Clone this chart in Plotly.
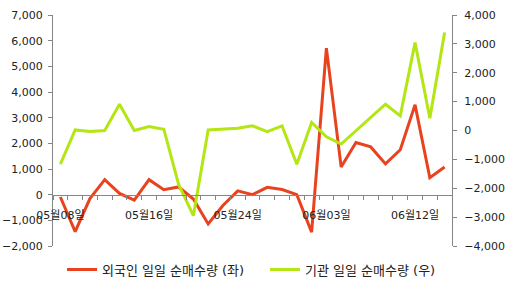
import plotly.graph_objects as go

dates = ['05월08일', '05월09일', '05월10일', '05월13일', '05월14일', '05월15일', '05월16일',
         '05월17일', '05월20일', '05월21일', '05월22일', '05월23일', '05월24일', '05월27일',
         '05월28일', '05월29일', '05월30일', '05월31일', '06월03일', '06월04일', '06월05일',
         '06월07일', '06월10일', '06월11일', '06월12일', '06월13일', '06월14일']
foreign = [-90, -1440, -150, 584, 50, -215, 584, 195, 300, -170, -1140, -420, 150, 0,
           285, 200, 0, -1460, 5710, 1075, 2030, 1860, 1200, 1750, 3500, 660, 1075]
institution = [-1165, 20, -38, 0, 908, 0, 135, 45, -1870, -2950, 20, 45, 80, 160, -40,
               160, -1170, 280, -220, -470, 0, 460, 910, 505, 3045, 425, 3395]
label_idx = [0, 6, 12, 18, 24]
left_ticks = list(range(-2000, 7001, 1000))
right_ticks = list(range(-4000, 4001, 1000))

name_f = '외국인 일일 순매수량 (좌)'
name_i = '기관 일일 순매수량 (우)'

RED = '#E8431E'
LIME = '#B4E614'
AX = '#868686'
FONT = 'DejaVu Sans, Noto Sans CJK KR, sans-serif'

x = list(range(len(dates)))

fig = go.Figure()
fig.add_trace(go.Scatter(x=x, y=institution, name=name_i, mode='lines',
                         line=dict(color=LIME, width=3), yaxis='y2', legend='legend2'))
fig.add_trace(go.Scatter(x=x, y=foreign, name=name_f, mode='lines',
                         line=dict(color=RED, width=3), yaxis='y', legend='legend'))

fig.update_layout(
    width=508, height=294,
    margin=dict(l=53, r=56, t=15, b=48, autoexpand=False),
    paper_bgcolor='white', plot_bgcolor='white',
    font=dict(family=FONT, size=11, color='#222222'),
    xaxis=dict(range=[-0.5, len(dates) - 0.5], anchor='free', position=2 / 9,
               showline=True, linecolor=AX, linewidth=1, showgrid=False, zeroline=False,
               tickmode='array', tickvals=label_idx, ticktext=[dates[i] for i in label_idx],
               ticks='', ticklabelstandoff=10, automargin=False,
               minor=dict(tickmode='linear', tick0=-0.5, dtick=1, ticks='outside',
                          ticklen=4, tickcolor=AX, showgrid=False)),
    yaxis=dict(range=[-2000, 7000], tickvals=left_ticks, tickformat=',', showgrid=False,
               zeroline=False, showline=True, linecolor=AX, ticks='outside', ticklen=4,
               tickcolor=AX, ticklabelstandoff=3, automargin=False),
    yaxis2=dict(range=[-4000, 4000], tickvals=right_ticks, tickformat=',', showgrid=False,
                zeroline=False, showline=True, linecolor=AX, ticks='outside', ticklen=4,
                tickcolor=AX, overlaying='y', side='right', anchor='x', ticklabelstandoff=5,
                automargin=False),
    legend=dict(x=(62 - 53) / 399, y=-0.102, xanchor='left', yanchor='middle',
                orientation='h', font=dict(size=13), bgcolor='rgba(0,0,0,0)'),
    legend2=dict(x=(265 - 53) / 399, y=-0.102, xanchor='left', yanchor='middle',
                 orientation='h', font=dict(size=13), bgcolor='rgba(0,0,0,0)'),
    showlegend=True,
)

fig.write_html('out.html')
